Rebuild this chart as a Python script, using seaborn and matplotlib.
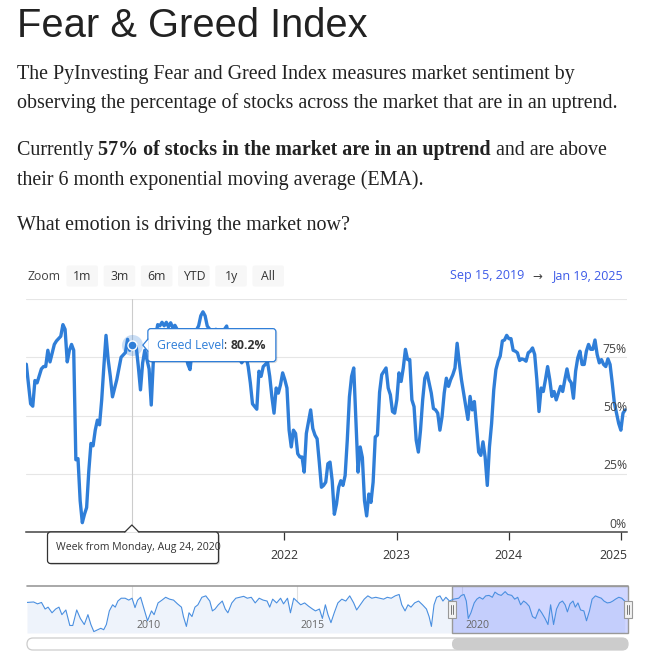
import numpy as np
import pandas as pd
import matplotlib
matplotlib.use("Agg")
import matplotlib.pyplot as plt
import matplotlib.transforms as mtransforms
from matplotlib.patches import FancyBboxPatch, Rectangle, Polygon
from matplotlib.lines import Line2D
import seaborn as sns

W, H = 668, 657

# --- weekly readings (week number since Monday Sep 16, 2019, % of stocks in uptrend) ---
weeks = [0, 2, 3, 4, 5, 7, 8, 9, 10, 11, 13, 14, 16, 17, 18, 19, 20, 21, 22, 23,
         24, 25, 26, 27, 28, 29, 30, 31, 32, 33, 34, 35, 36, 37, 38, 39, 40, 41, 42, 44,
         45, 46, 47, 48, 49, 51, 52, 53, 54, 55, 57, 58, 59, 60, 61, 62, 63, 64, 65, 66,
         67, 68, 69, 70, 71, 73, 74, 75, 76, 77, 78, 80, 81, 82, 83, 84, 86, 88, 90, 92,
         93, 94, 96, 98, 100, 102, 103, 104, 105, 107, 108, 109, 110, 112, 113, 114, 115, 116, 117, 118,
         119, 120, 121, 122, 123, 124, 125, 126, 127, 128, 129, 130, 132, 133, 134, 135, 136, 137, 138, 139,
         140, 141, 142, 143, 144, 145, 146, 147, 148, 149, 150, 151, 152, 153, 154, 155, 156, 157, 158, 159,
         160, 161, 162, 163, 164, 165, 167, 168, 169, 170, 171, 172, 173, 174, 175, 176, 177, 178, 179, 180,
         181, 182, 183, 184, 185, 186, 188, 189, 190, 191, 192, 193, 194, 195, 196, 197, 198, 199, 200, 201,
         202, 204, 205, 206, 207, 208, 209, 210, 211, 212, 213, 214, 215, 216, 217, 218, 219, 220, 221, 222,
         223, 224, 225, 226, 227, 228, 229, 230, 231, 232, 233, 234, 235, 236, 237, 238, 239, 240, 241, 242,
         243, 244, 245, 246, 247, 248, 249, 250, 251, 252, 253, 254, 255, 256, 257, 258, 259, 260, 261, 262,
         263, 264, 265, 266, 267, 268, 269, 270, 271, 272, 273, 274, 275, 276, 277, 278]
greed = [72, 55, 54, 65, 64, 70, 71, 71, 78, 73, 80.5, 82, 84, 89, 87, 73, 78, 80.5, 78, 31,
         31.5, 13.4, 4, 7.6, 10.5, 26, 38, 37, 43.7, 48, 46, 56.7, 71, 84.4, 74, 66.8, 58, 61.8, 65.4, 75,
         76, 77, 82.7, 78, 80.2, 79.8, 71, 61, 72.5, 78, 70, 54.5, 74, 84, 89, 88.5, 90, 88.5, 90, 88,
         89.8, 87.7, 88.7, 87, 86, 84, 76, 72, 69.7, 78, 85, 88.5, 92.8, 94.5, 92.8, 88.4, 86, 87, 86, 87,
         88.4, 84, 80, 76, 72.6, 75.5, 71, 64, 55, 52.7, 69, 66.8, 71, 72.9, 66.8, 58, 51, 61.8, 59.6, 63.2,
         68.3, 65.4, 61.8, 43.7, 36.5, 43.7, 42.3, 33.6, 32.2, 32.2, 25.7, 42.3, 52.4, 44.4, 41.6, 40, 30, 19.2, 20, 21.4,
         29.3, 30, 22, 7.6, 12, 19.2, 22, 20, 24.2, 39.4, 58, 66.8, 70.4, 48, 25.7, 36.5, 32, 13.4, 6.9, 16.3,
         12.7, 21.4, 40.8, 41.6, 60, 67.5, 70.4, 61.8, 58.9, 51.7, 51, 56.7, 68.3, 64.6, 70.4, 78.4, 74, 74, 56.7, 53.8,
         39.4, 34.3, 43.7, 56.7, 66, 68.3, 59.6, 53, 52.4, 51, 43.7, 49.5, 59.6, 66, 62.5, 65.4, 67.5, 70.4, 81, 72.6,
         65.4, 53.8, 48.3, 58.2, 52.4, 56, 45.2, 34.3, 32.9, 38.7, 32.2, 20, 36.5, 46.6, 61, 69.7, 73.3, 75.5, 82, 82.4,
         84.4, 83, 83, 78, 77.6, 76.9, 73.6, 74.3, 74, 73.3, 76.9, 77.6, 79, 76.2, 65.4, 51.7, 61.8, 60.3, 65.4, 71,
         65.4, 58.2, 60.3, 56.7, 59.6, 62.5, 60.3, 65.4, 70, 65.4, 64, 57.4, 69, 74.7, 77.6, 71.9, 71.9, 77.6, 80.5, 78.4,
         78.4, 82.4, 76.2, 72.6, 74, 71.9, 71, 74.3, 71.9, 64, 55.3, 51, 46.6, 43.7, 51, 52.4]

# --- navigator (full history, grouped) ---
nav_years = [2006.80, 2007.00, 2007.12, 2007.24, 2007.35, 2007.44, 2007.56, 2007.67, 2007.77, 2007.86,
             2007.98, 2008.10, 2008.19, 2008.31, 2008.42, 2008.54, 2008.65, 2008.74, 2008.83, 2008.95,
             2009.04, 2009.13, 2009.21, 2009.30, 2009.40, 2009.48, 2009.56, 2009.66, 2009.78, 2009.89,
             2009.99, 2010.08, 2010.16, 2010.25, 2010.37, 2010.46, 2010.58, 2010.66, 2010.78, 2010.90,
             2011.01, 2011.13, 2011.25, 2011.37, 2011.49, 2011.55, 2011.64, 2011.72, 2011.81, 2011.90,
             2011.99, 2012.11, 2012.23, 2012.35, 2012.43, 2012.51, 2012.61, 2012.73, 2012.82, 2012.90,
             2013.02, 2013.14, 2013.26, 2013.38, 2013.49, 2013.61, 2013.73, 2013.85, 2013.97, 2014.09,
             2014.17, 2014.26, 2014.38, 2014.50, 2014.59, 2014.71, 2014.80, 2014.90, 2014.99, 2015.11,
             2015.23, 2015.35, 2015.47, 2015.56, 2015.68, 2015.77, 2015.86, 2015.94, 2016.03, 2016.13,
             2016.24, 2016.36, 2016.48, 2016.60, 2016.72, 2016.81, 2016.92, 2017.04, 2017.15, 2017.27,
             2017.39, 2017.51, 2017.63, 2017.74, 2017.86, 2017.98, 2018.10, 2018.18, 2018.28, 2018.37,
             2018.46, 2018.57, 2018.69, 2018.81, 2018.93, 2019.01, 2019.08, 2019.16, 2019.24, 2019.34,
             2019.43, 2019.52, 2019.63, 2019.75, 2019.91, 2019.99, 2020.07, 2020.14, 2020.20, 2020.28,
             2020.38, 2020.46, 2020.54, 2020.64, 2020.73, 2020.83, 2020.93, 2021.01, 2021.11, 2021.20,
             2021.32, 2021.40, 2021.52, 2021.61, 2021.70, 2021.79, 2021.88, 2021.96, 2022.05, 2022.15,
             2022.24, 2022.35, 2022.43, 2022.53, 2022.62, 2022.70, 2022.79, 2022.88, 2022.97, 2023.06,
             2023.14, 2023.21, 2023.29, 2023.38, 2023.45, 2023.53, 2023.61, 2023.71, 2023.79, 2023.88,
             2023.96, 2024.06, 2024.16, 2024.24, 2024.32, 2024.42, 2024.51, 2024.59, 2024.67, 2024.77,
             2024.86, 2024.95]
nav_values = [65, 66, 62, 65, 51, 55, 43, 51, 55, 39,
              49, 16, 16, 49, 31, 18, 39, 18, 3, 7,
              10, 7, 18, 47, 60, 55, 68, 74, 74, 70,
              74, 54, 70, 76, 47, 26, 47, 39, 64, 70,
              76, 72, 70, 62, 55, 35, 14, 43, 35, 55,
              60, 76, 79, 68, 47, 51, 60, 68, 51, 43,
              64, 74, 76, 78, 74, 76, 64, 74, 70, 68,
              55, 72, 64, 74, 62, 74, 43, 74, 68, 60,
              64, 57, 51, 47, 51, 31, 60, 39, 22, 43,
              64, 72, 68, 79, 64, 49, 60, 72, 79, 74,
              76, 74, 72, 76, 74, 79, 82, 60, 47, 60,
              55, 64, 68, 60, 51, 35, 14, 60, 76, 79,
              68, 76, 68, 72, 74, 80, 82, 68, 31, 43,
              64, 72, 76, 72, 79, 80, 76, 87, 82, 80,
              88, 82, 80, 72, 76, 60, 68, 64, 57, 35,
              31, 51, 43, 31, 18, 60, 18, 51, 64, 68,
              60, 45, 62, 68, 55, 64, 49, 47, 26, 47,
              72, 79, 76, 74, 68, 64, 65, 68, 72, 76,
              74, 68]
nav_years_ticks = [2010, 2015, 2020]

tip_week = 49
zoom_buttons = ["1m", "3m", "6m", "YTD", "1y", "All"]
year_ticks = [2021, 2022, 2023, 2024, 2025]
year_labels = ["", "2022", "2023", "2024", "2025"]   # 2021 sits under the date tooltip
y_ticks = [0, 25, 50, 75, 100]

BLUE = "#2f7ed8"
DARK = "#333333"
SERIF = ["Liberation Serif", "DejaVu Serif"]
SANS = ["Open Sans", "DejaVu Sans"]

start = pd.Timestamp("2019-09-16")
df = pd.DataFrame({"date": start + pd.to_timedelta(np.array(weeks) * 7, unit="D"),
                   "greed": greed})

sns.set_theme(style="white")
plt.rcParams["font.family"] = SANS

fig = plt.figure(figsize=(W / 100, H / 100), dpi=100)


def ax_at(x0, y0, x1, y1):
    return fig.add_axes([x0 / W, 1 - y1 / H, (x1 - x0) / W, (y1 - y0) / H])


# ---------- main chart ----------
ax = ax_at(26, 299, 627, 532)
ax.set_zorder(2)
sns.lineplot(data=df, x="date", y="greed", ax=ax, color=BLUE, linewidth=2.4, zorder=3)
ax.set_xlim(pd.Timestamp("2019-09-15"), pd.Timestamp("2025-01-19"))
ax.set_ylim(0, 100)
ax.set_yticks(y_ticks)
ax.set_yticklabels([])
ax.tick_params(axis="y", length=0)
ax.grid(axis="y", color="#e6e6e6", linewidth=0.8)
ax.set_xlabel("")
ax.set_ylabel("")
for s in ["left", "right", "top"]:
    ax.spines[s].set_visible(False)
ax.spines["bottom"].set_color("#444444")
ax.spines["bottom"].set_linewidth(1.1)
ax.set_xticks([pd.Timestamp(f"{y}-01-01") for y in year_ticks])
ax.set_xticklabels(year_labels, fontsize=8.8, color=DARK)
ax.tick_params(axis="x", direction="out", length=6, width=0.9, color=DARK, pad=6, bottom=True)
ax.patch.set_alpha(0)
# last label pulled inside the plot edge, like the original
last = ax.get_xticklabels()[-1]
last.set_ha("right")
last.set_transform(last.get_transform() + mtransforms.ScaledTranslation(6 / 100, 0, fig.dpi_scale_trans))

lab_tr = mtransforms.offset_copy(ax.get_yaxis_transform(), fig=fig, x=0, y=1.5, units="dots")
for v in y_ticks[:-1]:
    ax.text(1.0, v, f"{v}%", transform=lab_tr, ha="right", va="bottom",
            fontsize=8.8, color="#444444")

tip_date = start + pd.Timedelta(days=7 * tip_week)
tip_val = greed[weeks.index(tip_week)]
ax.axvline(tip_date, color="#cccccc", linewidth=0.8, zorder=1)
ax.scatter([tip_date], [tip_val], s=230, color=BLUE, alpha=0.25, linewidths=0, zorder=4)
ax.scatter([tip_date], [tip_val], s=42, color=BLUE, edgecolors="white", linewidths=1.0, zorder=5)

# ---------- overlay in pixel coordinates ----------
ov = fig.add_axes([0, 0, 1, 1])
ov.set_xlim(0, W)
ov.set_ylim(H, 0)
ov.axis("off")
ov.set_zorder(10)
ov.patch.set_alpha(0)
rend = fig.canvas.get_renderer()


def seg_text(x, y, parts, size, family, va="baseline"):
    for s, w, c in parts:
        t = ov.text(x, y, s, fontsize=size, fontweight=w, color=c, family=family, va=va)
        x += t.get_window_extent(renderer=rend).width
    return x


ov.text(17, 37, "Fear & Greed Index", fontsize=28.7, color="#222222",
        family=["Liberation Sans", "DejaVu Sans"], va="baseline")
PS = 14.4
TXT = "#222222"
seg_text(17, 78.5, [("The PyInvesting Fear and Greed Index measures market sentiment by", "normal", TXT)], PS, SERIF)
seg_text(17, 108, [("observing the percentage of stocks across the market that are in an uptrend.", "normal", TXT)], PS, SERIF)
seg_text(17, 155, [("Currently ", "normal", TXT),
                   ("57% of stocks in the market are in an uptrend", "bold", TXT),
                   (" and are above", "normal", TXT)], PS, SERIF)
seg_text(17, 184.5, [("their 6 month exponential moving average (EMA).", "normal", TXT)], PS, SERIF)
seg_text(17, 230, [("What emotion is driving the market now?", "normal", TXT)], PS, SERIF)

# range selector
ov.text(28, 276, "Zoom", fontsize=8.8, color="#444444", va="center")
for i, b in enumerate(zoom_buttons):
    x0 = 66.5 + i * 37.2
    ov.add_patch(FancyBboxPatch((x0, 265.5), 31.5, 21, boxstyle="round,pad=0,rounding_size=2",
                                facecolor="#f7f7f7", edgecolor="none"))
    ov.text(x0 + 15.75, 276.5, b, fontsize=8.8, color=DARK, ha="center", va="center")
INP = "#3c5ae8"
ov.text(524, 276, "Sep 15, 2019", fontsize=9, color=INP, ha="right", va="center")
ov.text(537, 276, "\u2192", fontsize=8.5, color="#444444", ha="center", va="center",
        family=["DejaVu Sans"])
ov.text(552, 276, "Jan 19, 2025", fontsize=9, color=INP, ha="left", va="center")

# tooltip position derived from data
disp = ax.transData.transform((matplotlib.dates.date2num(tip_date), tip_val))
px, py = ov.transData.inverted().transform(disp)

# greed tooltip
bx0, by0, bw, bh = px + 16, py - 16.5, 128, 33
ov.add_patch(FancyBboxPatch((bx0 + 1.5, by0 + 1.5), bw, bh, boxstyle="round,pad=0,rounding_size=3",
                            facecolor="black", alpha=0.12, edgecolor="none"))
ov.add_patch(FancyBboxPatch((bx0, by0), bw, bh, boxstyle="round,pad=0,rounding_size=3",
                            facecolor="white", edgecolor=BLUE, linewidth=0.9))
ov.add_patch(Polygon([(bx0 + 0.8, py - 6), (bx0 - 5, py), (bx0 + 0.8, py + 6)], closed=True,
                     facecolor="white", edgecolor="none", zorder=3))
ov.add_line(Line2D([bx0, bx0 - 5, bx0], [py - 6, py, py + 6], color=BLUE, linewidth=0.9, zorder=4))
seg_text(bx0 + 9, py, [("Greed Level", "normal", BLUE), (": ", "normal", DARK),
                       ("80.2%", "bold", DARK)], 8.8, SANS, va="center")

# date tooltip under the axis
dx0, dy0, dw, dh = 47.5, 532, 171, 31.5
ov.add_patch(FancyBboxPatch((dx0 + 1.5, dy0 + 1.5), dw, dh, boxstyle="round,pad=0,rounding_size=3",
                            facecolor="black", alpha=0.15, edgecolor="none"))
ov.add_patch(FancyBboxPatch((dx0, dy0), dw, dh, boxstyle="round,pad=0,rounding_size=3",
                            facecolor="white", edgecolor=DARK, linewidth=0.9))
ov.add_patch(Polygon([(px - 7, dy0 + 0.8), (px, dy0 - 7), (px + 7, dy0 + 0.8)], closed=True,
                     facecolor="white", edgecolor="none", zorder=3))
ov.add_line(Line2D([px - 7, px, px + 7], [dy0, dy0 - 7, dy0], color=DARK, linewidth=0.9, zorder=4))
ov.text(dx0 + 8, dy0 + dh / 2, "Week from Monday, Aug 24, 2020", fontsize=7.6, color=DARK, va="center")

# ---------- navigator ----------
nav = ax_at(27, 586, 628, 633)
nav.set_zorder(3)
nav.fill_between(nav_years, nav_values, 0, color="#eef3fb", linewidth=0)
sns.lineplot(x=nav_years, y=nav_values, ax=nav, color="#4a8fe0", linewidth=0.8)
nav.set_xlim(2006.8, 2025.05)
nav.set_ylim(0, 100)
nav.set_xticks([])
nav.set_yticks([])
for s in nav.spines.values():
    s.set_visible(False)
for y in nav_years_ticks:
    nav.axvline(y, color="#e0e0e0", linewidth=0.8, zorder=0)
    nav.text(y + 0.12, 4, str(y), fontsize=7.6, color="#666666", ha="left", va="bottom")
sel0 = 2019 + (pd.Timestamp("2019-09-15").dayofyear - 1) / 365.0
nav.axvspan(sel0, 2025.05, color=(0.40, 0.48, 1.0), alpha=0.30, linewidth=0)
nav.add_patch(Rectangle((sel0, 0), 2025.05 - sel0, 100, fill=False, edgecolor="#999999",
                        linewidth=1.0, clip_on=False))
nav.axhline(100, color="#999999", linewidth=1.2, clip_on=False)

# handles
for xh in [nav.transData.transform((sel0, 0))[0], nav.transData.transform((2025.05, 0))[0]]:
    hx = ov.transData.inverted().transform((xh, 0))[0]
    ov.add_patch(Rectangle((hx - 4, 601), 8, 17, facecolor="#f2f2f2", edgecolor="#999999", linewidth=0.8))
    ov.add_line(Line2D([hx - 1.3, hx - 1.3], [605, 614], color="#777777", linewidth=0.7))
    ov.add_line(Line2D([hx + 1.3, hx + 1.3], [605, 614], color="#777777", linewidth=0.7))

# scrollbar
ov.add_patch(FancyBboxPatch((27, 638), 601, 12, boxstyle="round,pad=0,rounding_size=6",
                            facecolor="white", edgecolor="#cccccc", linewidth=0.9))
hx0 = ov.transData.inverted().transform((nav.transData.transform((sel0, 0))[0], 0))[0]
ov.add_patch(FancyBboxPatch((hx0, 638), 628 - hx0, 12, boxstyle="round,pad=0,rounding_size=6",
                            facecolor="#cccccc", edgecolor="none"))

fig.savefig("out.png", dpi=100)
